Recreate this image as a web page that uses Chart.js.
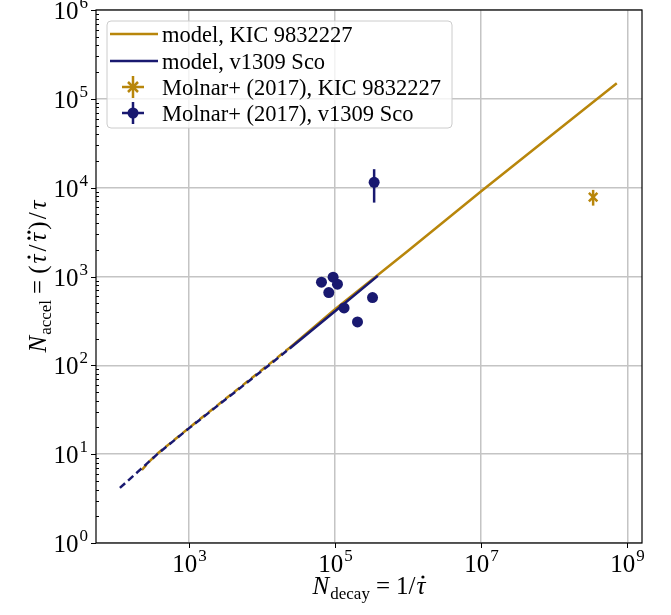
<!DOCTYPE html>
<html>
  <head>
    <script src="https://cdn.jsdelivr.net/npm/chart.js@4"></script>
    <style>
      body { margin: 0; background: #fff; }
    </style>
  </head>
  <body>
    <canvas id="myChart" width="671" height="615"></canvas>

    <script>
      // model tracks (N_decay, N_accel)
      var modelKicX = [228, 282, 365, 1000, 1.2e4, 2.4e4, 1e5, 1e6, 1e7, 1e8, 7.16e8];
      var modelKicY = [6.64, 8.13, 10.0, 19.7, 100, 158, 427, 1950, 9120, 4.12e4, 1.5e5];
      var modelScoX = [114, 200, 365, 1000, 1.2e4, 2.4e4, 1e5, 3.85e5];
      var modelScoY = [4.17, 6.31, 9.89, 19.5, 97.7, 155, 407, 1016];
      var dashedBelow = 2.4e4; // model curves are dashed left of this N_decay

      // Molnar+ (2017) measurements
      var kicX = [3.4e8];
      var kicY = [7820];
      var kicLow = [6280];
      var kicHigh = [9440];
      var scoX = [6.53e4, 9.42e4, 1.08e5, 8.22e4, 1.33e5, 2.03e5, 3.26e5, 3.43e5];
      var scoY = [863, 982, 819, 659, 443, 308, 579, 11480];
      var scoLow = [863, 982, 819, 659, 443, 308, 579, 6790];
      var scoHigh = [863, 982, 819, 659, 443, 308, 579, 16150];

      var xTicks = [1e3, 1e5, 1e7, 1e9];
      var yTicks = [1, 10, 100, 1e3, 1e4, 1e5, 1e6];

      var gold = "#b8860b";
      var navy = "#191970";
      var serif = "'Liberation Serif', 'DejaVu Serif', serif";

      function pairs(xs, ys) {
        return xs.map(function (x, i) { return { x: x, y: ys[i] }; });
      }

      function dashSeg(ctx) {
        return ctx.p1.parsed.x <= dashedBelow ? [7, 4] : undefined;
      }

      // "10" with a raised exponent
      function drawPow(ctx, exp, x, y, align) {
        ctx.font = "25px " + serif;
        var w1 = ctx.measureText("10").width + 1;
        ctx.font = "17px " + serif;
        var w2 = ctx.measureText(String(exp)).width;
        var start = align === "center" ? x - (w1 + w2) / 2 : x - w1 - w2;
        ctx.textAlign = "left";
        ctx.textBaseline = "alphabetic";
        ctx.font = "25px " + serif;
        ctx.fillText("10", start, y);
        ctx.font = "17px " + serif;
        ctx.fillText(String(exp), start + w1, y - 11);
      }

      // run of [text, font, dy, gapAfter, dots] pieces centred on x
      function drawRun(ctx, parts, x, y) {
        var total = 0;
        parts.forEach(function (p) { ctx.font = p[1]; total += ctx.measureText(p[0]).width + (p[3] || 0); });
        var cx = x - total / 2;
        ctx.textAlign = "left";
        ctx.textBaseline = "alphabetic";
        parts.forEach(function (p) {
          ctx.font = p[1];
          var w = ctx.measureText(p[0]).width;
          ctx.fillText(p[0], cx, y + p[2]);
          if (p[4]) {
            var mid = cx + w / 2 + 2;
            for (var k = 0; k < p[4]; k++) {
              var dx = p[4] === 1 ? 0 : (k === 0 ? -3 : 3);
              ctx.beginPath();
              ctx.arc(mid + dx, y - 17, 1.6, 0, Math.PI * 2);
              ctx.fill();
            }
          }
          cx += w + (p[3] || 0);
        });
      }

      var errorBars = {
        id: "errorBars",
        afterDatasetsDraw: function (chart) {
          var ctx = chart.ctx;
          var xs = chart.scales.x, ys = chart.scales.y;
          ctx.save();
          ctx.lineWidth = 2.5;
          [[kicX, kicLow, kicHigh, gold], [scoX, scoLow, scoHigh, navy]].forEach(function (s) {
            ctx.strokeStyle = s[3];
            s[0].forEach(function (x, i) {
              if (s[1][i] === s[2][i]) return;
              var px = xs.getPixelForValue(x);
              ctx.beginPath();
              ctx.moveTo(px, ys.getPixelForValue(s[1][i]));
              ctx.lineTo(px, ys.getPixelForValue(s[2][i]));
              ctx.stroke();
            });
          });
          ctx.restore();
        },
      };

      var decor = {
        id: "decor",
        afterDraw: function (chart) {
          var ctx = chart.ctx;
          var a = chart.chartArea;
          var xs = chart.scales.x, ys = chart.scales.y;
          ctx.save();

          // frame
          ctx.strokeStyle = "#000";
          ctx.lineWidth = 1.2;
          ctx.strokeRect(a.left, a.top, a.right - a.left, a.bottom - a.top);

          // ticks and labels
          ctx.fillStyle = "#000";
          ctx.lineWidth = 1;
          xTicks.forEach(function (v) {
            var px = Math.round(xs.getPixelForValue(v)) + 0.5;
            ctx.beginPath();
            ctx.moveTo(px, a.bottom);
            ctx.lineTo(px, a.bottom + 5);
            ctx.stroke();
            drawPow(ctx, Math.round(Math.log10(v)), px, 572, "center");
          });
          yTicks.forEach(function (v) {
            var py = Math.round(ys.getPixelForValue(v)) + 0.5;
            ctx.beginPath();
            ctx.moveTo(a.left - 5, py);
            ctx.lineTo(a.left, py);
            ctx.stroke();
            drawPow(ctx, Math.round(Math.log10(v)), a.left - 8, py + 8, "right");
            if (v < 1e6) {
              for (var m = 2; m < 10; m++) {
                var my = Math.round(ys.getPixelForValue(v * m)) + 0.5;
                ctx.beginPath();
                ctx.moveTo(a.left, my);
                ctx.lineTo(a.left + 3, my);
                ctx.stroke();
              }
            }
          });

          // axis titles
          var it = "italic 25px " + serif, rm = "25px " + serif, sub = "17px " + serif;
          drawRun(ctx, [["N", it, 0, 1], ["decay", sub, 5, 6], ["=", rm, 0, 6], ["1/", rm, 0, 1], ["\u03c4", it, 0, 0, 1]],
            (a.left + a.right) / 2, 594);
          ctx.save();
          ctx.translate(46, (a.top + a.bottom) / 2);
          ctx.rotate(-Math.PI / 2);
          drawRun(ctx, [["N", it, 0, 1], ["accel", sub, 5, 6], ["=", rm, 0, 6], ["(", rm, 0, 2], ["\u03c4", it, 0, 3, 1],
            ["/", rm, 0, 3], ["\u03c4", it, 0, 3, 2], [")", rm, 0, 2], ["/", rm, 0, 3], ["\u03c4", it, 0, 0]], 0, 0);
          ctx.restore();

          // legend
          var lx = 107, ly = 21, lw = 345, lh = 107;
          ctx.beginPath();
          ctx.roundRect(lx, ly, lw, lh, 4);
          ctx.fillStyle = "rgba(255,255,255,0.8)";
          ctx.fill();
          ctx.strokeStyle = "#cccccc";
          ctx.lineWidth = 1;
          ctx.stroke();

          var rows = [34, 61, 87, 113];
          var labels = chart.data.datasets.map(function (d) { return d.label; });
          ctx.lineWidth = 2.5;
          [[rows[0], gold], [rows[1], navy]].forEach(function (r) {
            ctx.strokeStyle = r[1];
            ctx.beginPath();
            ctx.moveTo(110, r[0]);
            ctx.lineTo(158, r[0]);
            ctx.stroke();
          });
          [[rows[2], gold], [rows[3], navy]].forEach(function (r) {
            ctx.strokeStyle = r[1];
            ctx.beginPath();
            ctx.moveTo(133, r[0] - 11);
            ctx.lineTo(133, r[0] + 11);
            ctx.moveTo(122, r[0]);
            ctx.lineTo(144, r[0]);
            ctx.stroke();
          });
          ctx.strokeStyle = gold;
          ctx.beginPath();
          ctx.moveTo(128, rows[2] - 5); ctx.lineTo(138, rows[2] + 5);
          ctx.moveTo(138, rows[2] - 5); ctx.lineTo(128, rows[2] + 5);
          ctx.stroke();
          ctx.fillStyle = navy;
          ctx.beginPath();
          ctx.arc(133, rows[3], 5.5, 0, Math.PI * 2);
          ctx.fill();

          ctx.fillStyle = "#000";
          ctx.font = "22.5px " + serif;
          ctx.textAlign = "left";
          ctx.textBaseline = "alphabetic";
          labels.forEach(function (t, i) { ctx.fillText(t, 162, rows[i] + 8); });

          ctx.restore();
        },
      };

      var ctx = document.getElementById("myChart").getContext("2d");
      var myChart = new Chart(ctx, {
        type: "scatter",
        data: {
          datasets: [
            {
              label: "model, KIC 9832227",
              data: pairs(modelKicX, modelKicY),
              showLine: true,
              borderColor: gold,
              borderWidth: 2.5,
              pointRadius: 0,
              segment: { borderDash: dashSeg },
              order: 4,
            },
            {
              label: "model, v1309 Sco",
              data: pairs(modelScoX, modelScoY),
              showLine: true,
              borderColor: navy,
              borderWidth: 2.5,
              pointRadius: 0,
              segment: { borderDash: dashSeg },
              order: 3,
            },
            {
              label: "Molnar+ (2017), KIC 9832227",
              data: pairs(kicX, kicY),
              pointStyle: "crossRot",
              pointRadius: 6,
              borderWidth: 2.5,
              borderColor: gold,
              backgroundColor: gold,
              order: 2,
            },
            {
              label: "Molnar+ (2017), v1309 Sco",
              data: pairs(scoX, scoY),
              pointRadius: 5.5,
              borderWidth: 0,
              backgroundColor: navy,
              borderColor: navy,
              order: 1,
            },
          ],
        },
        options: {
          responsive: false,
          animation: false,
          layout: { padding: { left: 0, right: 29, top: 10, bottom: 0 } },
          plugins: { legend: { display: false }, tooltip: { enabled: false } },
          scales: {
            x: {
              type: "logarithmic",
              min: Math.pow(10, 1.73),
              max: Math.pow(10, 9.2),
              afterBuildTicks: function (s) { s.ticks = xTicks.map(function (v) { return { value: v }; }); },
              afterFit: function (s) { s.height = 72; },
              ticks: { display: false },
              border: { display: false },
              grid: { color: "#c4c4c4", lineWidth: 1.5, drawTicks: false },
            },
            y: {
              type: "logarithmic",
              min: 1,
              max: 1e6,
              afterBuildTicks: function (s) { s.ticks = yTicks.map(function (v) { return { value: v }; }); },
              afterFit: function (s) { s.width = 96; },
              ticks: { display: false },
              border: { display: false },
              grid: { color: "#c4c4c4", lineWidth: 1.5, drawTicks: false },
            },
          },
        },
        plugins: [errorBars, decor],
      });
    </script>
  </body>
</html>
